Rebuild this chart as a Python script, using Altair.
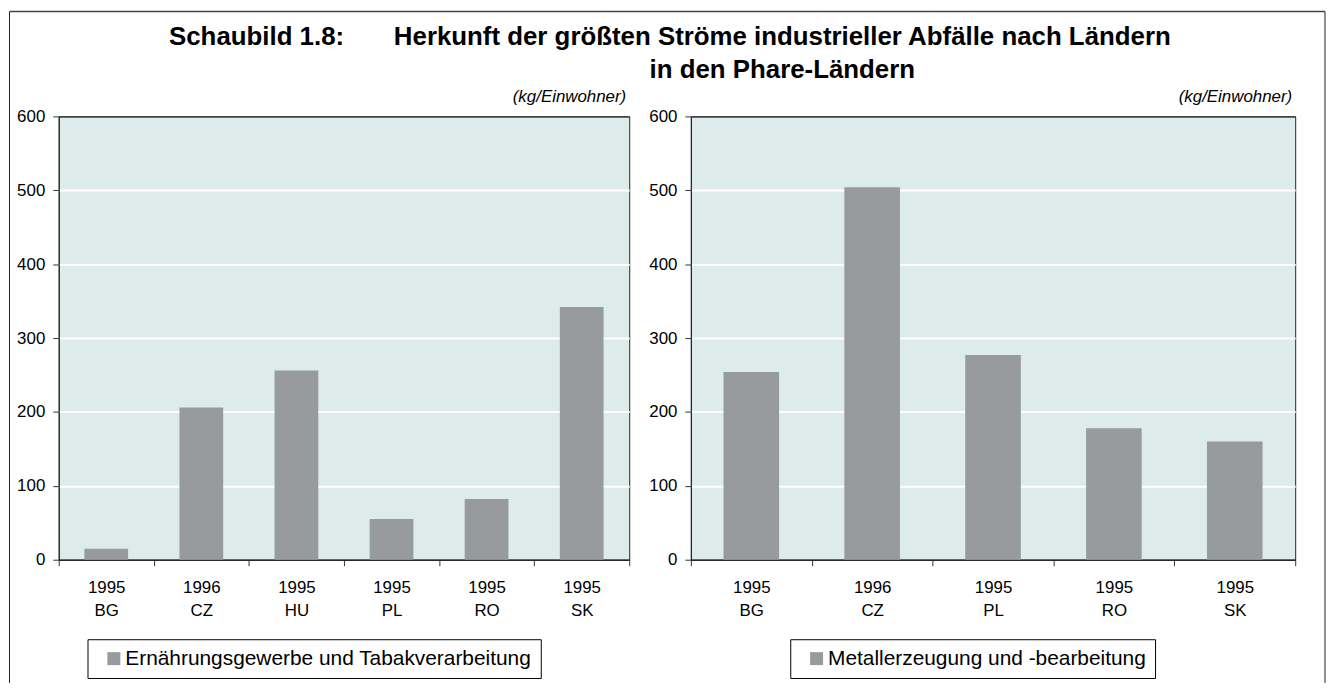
import altair as alt
import pandas as pd

# ---- data ----
years_food = ["1995", "1996", "1995", "1995", "1995", "1995"]
countries_food = ["BG", "CZ", "HU", "PL", "RO", "SK"]
values_food = [15, 206, 256, 55, 82, 342]

years_metal = ["1995", "1996", "1995", "1995", "1995"]
countries_metal = ["BG", "CZ", "PL", "RO", "SK"]
values_metal = [254, 504, 277, 178, 160]

series_food = "Ernährungsgewerbe und Tabakverarbeitung"
series_metal = "Metallerzeugung und -bearbeitung"
y_ticks = [0, 100, 200, 300, 400, 500, 600]
unit_label = "(kg/Einwohner)"
title_prefix = "Schaubild 1.8:"
title_line1 = "Herkunft der größten Ströme industrieller Abfälle nach Ländern"
title_line2 = "in den Phare-Ländern"

FONT = "Liberation Sans"
BAR = "#979b9d"
BG = "#ddeceb"
H = 446
W_L = 574
W_R = 608


def one(text):
    return pd.DataFrame({"t": [text]})


def panel(years, countries, values, series, width, legend_x):
    df = pd.DataFrame({
        "label": [f"{y} {c}" for y, c in zip(years, countries)],
        "value": values,
        "series": [series] * len(values),
    })
    x = alt.X("label:N", sort=None, title=None,
              scale=alt.Scale(paddingInner=0, paddingOuter=0),
              axis=alt.Axis(labelExpr="split(datum.label, ' ')", labelAngle=0,
                            tickBand="extent", tickSize=6, tickColor="#333333",
                            domainColor="#222222", labelFont=FONT, labelFontSize=17,
                            labelColor="black", labelPadding=14, labelLineHeight=23))
    y = alt.Y("value:Q", title=None,
              scale=alt.Scale(domain=[0, 600], nice=False, zero=True),
              axis=alt.Axis(values=y_ticks, grid=True,
                            gridColor={"condition": {"test": "datum.value === 600 || datum.value === 0",
                                                     "value": "#222222"}, "value": "white"},
                            gridWidth={"condition": {"test": "datum.value === 600 || datum.value === 0",
                                                     "value": 1}, "value": 2},
                            tickSize=6, tickColor="#333333", domainColor="#222222",
                            labelFont=FONT, labelFontSize=17, labelColor="black",
                            labelPadding=8))
    bars = alt.Chart(df).mark_bar(width=alt.RelativeBandSize(0.46)).encode(
        x=x, y=y,
        color=alt.Color("series:N", scale=alt.Scale(range=[BAR]),
                        legend=alt.Legend(orient="none", legendX=legend_x, legendY=526,
                                          title=None, symbolType="square", symbolSize=170,
                                          symbolStrokeWidth=0, labelFont=FONT,
                                          labelFontSize=21, labelColor="black",
                                          padding=9, strokeColor="black", fillColor="white",
                                          symbolOffset=7, labelOffset=1, labelLimit=0,
                                          labelExpr="datum.label + '\u00a0\u00a0'")),
    )
    unit = alt.Chart(one(unit_label)).mark_text(
        font=FONT, fontSize=17, fontStyle="italic", align="right", baseline="alphabetic",
        color="black").encode(text="t:N", x=alt.value(width - 3), y=alt.value(-14))
    return bars, unit


bars_l, unit_l = panel(years_food, countries_food, values_food, series_food, W_L, 29)
bars_r, unit_r = panel(years_metal, countries_metal, values_metal, series_metal, W_R, 100)

title_a = alt.Chart(one(title_prefix)).mark_text(
    font=FONT, fontSize=26, fontWeight="bold", align="left", baseline="alphabetic",
    color="black").encode(text="t:N", x=alt.value(111), y=alt.value(-72))
title_b = alt.Chart(one(title_line1)).mark_text(
    font=FONT, fontSize=26, fontWeight="bold", align="center", baseline="alphabetic",
    color="black").encode(text="t:N", x=alt.value(728), y=alt.value(-72))
title_c = alt.Chart(one(title_line2)).mark_text(
    font=FONT, fontSize=26, fontWeight="bold", align="center", baseline="alphabetic",
    color="black").encode(text="t:N", x=alt.value(728), y=alt.value(-39))

frame_src = one("frame")
frame_left = alt.Chart(frame_src).mark_rule(color="#222222", strokeWidth=1).encode(
    x=alt.value(-49.5), y=alt.value(-105.5), y2=alt.value(570))
frame_top = alt.Chart(frame_src).mark_rule(color="#444444", strokeWidth=1.5).encode(
    x=alt.value(-49.5), x2=alt.value(1274), y=alt.value(-105.5))
frame_right = alt.Chart(frame_src).mark_rule(color="#222222", strokeWidth=1).encode(
    x=alt.value(1274), y=alt.value(-105.5), y2=alt.value(570))

left = alt.layer(bars_l, unit_l, title_a, title_b, title_c,
                 frame_left, frame_top, frame_right).properties(width=W_L, height=H)
right = alt.layer(bars_r, unit_r).properties(width=W_R, height=H)

chart = alt.hconcat(left, right, spacing=62, bounds="flush").resolve_scale(
    color="independent").configure_view(fill=BG, stroke="#222222", strokeWidth=1).properties(
    padding={"left": 0, "top": 0, "right": 0, "bottom": 0})

chart.save("out.html", embed_options={"renderer": "svg", "actions": False})
